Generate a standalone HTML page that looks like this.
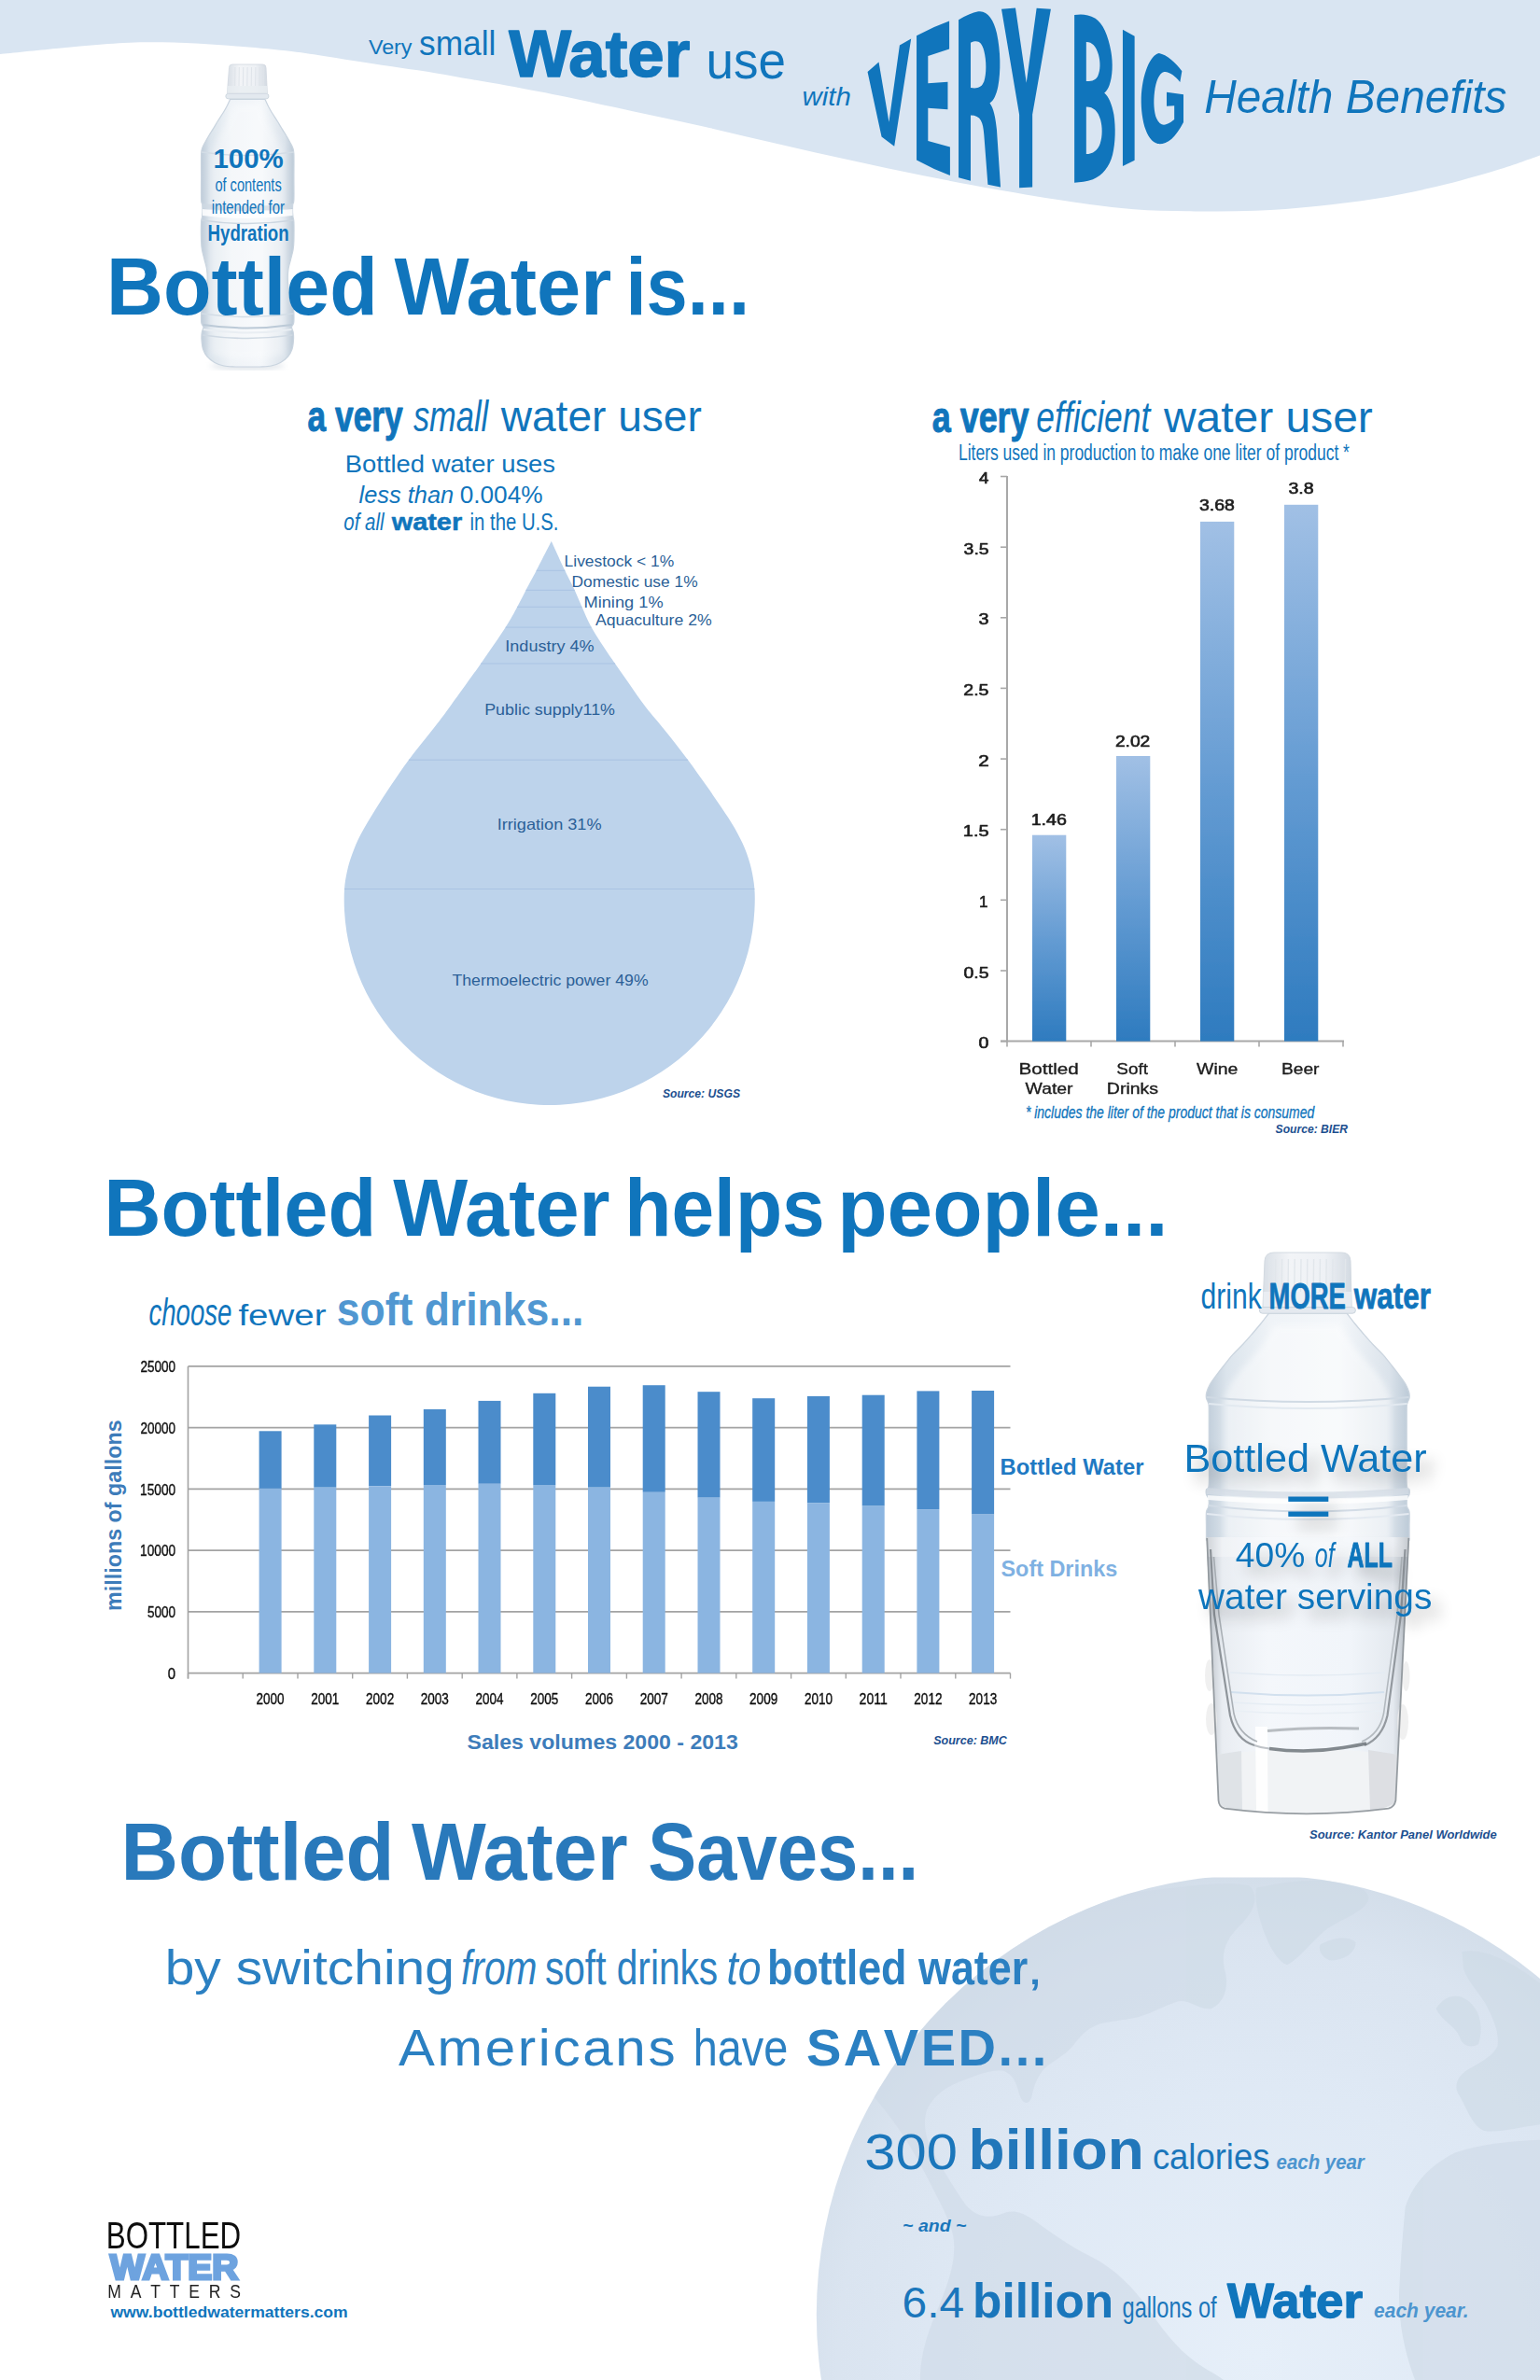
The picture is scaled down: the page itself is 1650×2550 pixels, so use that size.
<!DOCTYPE html>
<html><head><meta charset="utf-8"><title>Bottled Water</title>
<style>
html,body{margin:0;padding:0;background:#fff;}
body{width:1650px;height:2550px;overflow:hidden;font-family:"Liberation Sans",sans-serif;}
svg{display:block;font-family:"Liberation Sans",sans-serif;}
text{white-space:pre;}
</style></head><body>
<svg width="1650" height="2550" viewBox="0 0 1650 2550">
<defs>
<linearGradient id="barg" x1="0" y1="0" x2="0" y2="1"><stop offset="0" stop-color="#a1c0e5"/><stop offset="0.5" stop-color="#659cd3"/><stop offset="1" stop-color="#2e7bbf"/></linearGradient>
<radialGradient id="globeg" cx="0.5" cy="0.55" r="0.56"><stop offset="0" stop-color="#e6eff9"/><stop offset="0.55" stop-color="#dfe9f5"/><stop offset="0.85" stop-color="#dae4f0"/><stop offset="1" stop-color="#d2dde9"/></radialGradient>
<linearGradient id="botg" x1="0" y1="0" x2="1" y2="0"><stop offset="0" stop-color="#bfccd9"/><stop offset="0.10" stop-color="#dbe4ec"/><stop offset="0.32" stop-color="#eff3f7"/><stop offset="0.65" stop-color="#f4f7fa"/><stop offset="0.90" stop-color="#dbe3eb"/><stop offset="1" stop-color="#bccad7"/></linearGradient>
<linearGradient id="capg" x1="0" y1="0" x2="1" y2="0"><stop offset="0" stop-color="#d9dfe6"/><stop offset="0.3" stop-color="#f2f4f7"/><stop offset="0.7" stop-color="#eef1f5"/><stop offset="1" stop-color="#d3dae2"/></linearGradient>
<linearGradient id="glassg" x1="0" y1="0" x2="1" y2="0"><stop offset="0" stop-color="#b9bfc6"/><stop offset="0.08" stop-color="#e9edf2"/><stop offset="0.3" stop-color="#f4f7fb"/><stop offset="0.7" stop-color="#f1f5fa"/><stop offset="0.92" stop-color="#e4e9ef"/><stop offset="1" stop-color="#aab1b9"/></linearGradient>
<filter id="sh" x="-20%" y="-50%" width="150%" height="250%"><feGaussianBlur in="SourceAlpha" stdDeviation="8"/><feOffset dx="10" dy="11" result="b"/><feComponentTransfer><feFuncA type="linear" slope="0.26"/></feComponentTransfer><feMerge><feMergeNode/><feMergeNode in="SourceGraphic"/></feMerge></filter>
<filter id="soft"><feGaussianBlur stdDeviation="0.45"/></filter>
<filter id="soft2"><feGaussianBlur stdDeviation="0.7"/></filter>
<filter id="blur3"><feGaussianBlur stdDeviation="3"/></filter>
</defs>
<path d="M0,0 H1650 V166.4 C1642.4,169.0 1622.9,176.4 1604.5,182.0 C1586.1,187.6 1561.2,194.7 1539.6,199.8 C1518.0,204.9 1496.3,209.3 1474.7,212.8 C1453.1,216.3 1431.6,218.8 1410.0,221.0 C1388.4,223.2 1366.7,224.9 1345.0,225.8 C1323.3,226.7 1301.7,226.7 1280.0,226.4 C1258.3,226.1 1236.7,225.8 1215.0,224.2 C1193.3,222.5 1174.6,220.0 1150.0,216.5 C1125.4,213.0 1094.2,207.7 1067.5,203.0 C1040.8,198.3 1015.6,193.4 989.6,188.2 C963.6,183.0 937.7,177.5 911.7,171.8 C885.7,166.2 859.8,160.3 833.8,154.3 C807.8,148.3 781.8,141.8 755.8,136.0 C729.8,130.2 704.0,124.8 678.0,119.2 C652.0,113.6 622.2,107.0 600.0,102.5 C577.8,98.0 560.8,94.9 545.0,92.0 C529.2,89.1 517.9,87.3 505.0,85.0 C492.1,82.7 480.3,80.5 467.5,78.4 C454.7,76.3 440.9,74.4 428.0,72.5 C415.1,70.6 403.0,68.8 390.0,66.8 C377.0,64.8 363.0,62.5 350.0,60.5 C337.0,58.5 327.0,56.8 312.0,55.0 C297.0,53.2 277.0,51.4 260.0,50.0 C243.0,48.6 227.3,47.3 210.0,46.5 C192.7,45.7 172.7,45.1 156.0,45.3 C139.3,45.5 126.0,46.4 110.0,47.5 C94.0,48.6 78.3,50.2 60.0,52.0 C41.7,53.8 10.0,57.0 0.0,58.0 Z" fill="#d9e5f2"/>
<text x="394.9" y="58.0" font-size="22.0" font-weight="normal" font-style="normal" fill="#1075bc" textLength="46.6" lengthAdjust="spacingAndGlyphs" >Very</text>
<text x="449.0" y="59.0" font-size="37.0" font-weight="normal" font-style="normal" fill="#1075bc" textLength="82.3" lengthAdjust="spacingAndGlyphs" >small</text>
<text x="545.2" y="81.6" font-size="71.0" font-weight="bold" font-style="normal" fill="#1075bc" textLength="194.0" lengthAdjust="spacingAndGlyphs" stroke="#1075bc" stroke-width="1.6" stroke-linejoin="round" >Water</text>
<text x="756.6" y="84.0" font-size="56.0" font-weight="normal" font-style="normal" fill="#1075bc" textLength="85.4" lengthAdjust="spacingAndGlyphs" >use</text>
<text x="859.5" y="112.7" font-size="27.0" font-weight="normal" font-style="italic" fill="#1075bc" textLength="52.3" lengthAdjust="spacingAndGlyphs" >with</text>
<text x="1290.2" y="121.0" font-size="50.0" font-weight="normal" font-style="italic" fill="#1075bc" textLength="324.3" lengthAdjust="spacingAndGlyphs" >Health Benefits</text>
<g transform="translate(920,0) scale(0.136364)" fill="#1075bc">
<path d="M70,565 L158,488 L238,958 L322,355 L412,305 L280,1150 L180,1075 Z"/>
<path d="M455,280 Q585,210 712,165 L712,385 L545,440 L545,655 L700,643 L700,860 L545,848 L545,1108 L718,1155 L718,1378 Q585,1330 455,1258 Z"/>
<path fill-rule="evenodd" d="M785,155 Q870,105 940,90 C1010,80 1060,150 1085,260 C1115,400 1118,560 1095,680 C1080,750 1060,790 1030,810 C1060,850 1075,920 1085,1020 L1115,1470 L1015,1450 L985,1060 C978,960 960,905 880,905 L880,1420 L785,1395 Z M880,335 C930,315 965,320 985,400 C1005,480 1005,580 985,640 C965,690 930,698 880,690 Z"/>
<path d="M1122,72 L1232,62 L1318,650 L1398,65 L1510,72 L1365,900 L1365,1470 L1262,1475 L1262,900 Z"/>
</g>
<g transform="translate(1100,0) scale(0.136364)" fill="#1075bc">
<path fill-rule="evenodd" d="M375,118 C430,108 480,112 540,145 C600,185 640,280 662,400 C680,500 675,600 650,670 C640,700 625,720 610,730 C645,760 670,820 685,900 C700,1000 698,1120 675,1215 C650,1310 600,1375 520,1410 C470,1428 420,1432 375,1435 Z M468,330 C510,328 545,360 565,430 C580,490 580,550 560,595 C545,628 510,640 468,638 Z M468,840 C520,838 560,870 580,940 C596,1000 596,1070 578,1125 C560,1180 520,1210 468,1210 Z"/>
<path d="M755,232 L848,285 L848,1260 L755,1305 Z"/>
<path d="M1040,418 C1100,430 1170,490 1220,560 L1205,645 C1170,600 1120,560 1080,565 C1040,575 1015,640 1005,720 C995,800 1000,880 1020,930 C1040,975 1070,990 1100,975 C1125,965 1145,950 1160,938 L1160,830 L1100,835 L1100,725 L1232,742 L1232,960 C1200,1020 1170,1060 1140,1090 C1100,1125 1060,1135 1030,1130 C990,1120 960,1085 935,1020 C910,950 898,860 900,770 C903,680 920,590 950,520 C975,465 1005,425 1040,418 Z"/>
</g>
<g>
<ellipse cx="265" cy="392" rx="40" ry="3.5" fill="#b9c5d0" opacity="0.55" filter="url(#blur3)"/>
<path d="M246.5,106.5 C245.9,107.8 244.2,111.6 243.0,114.0 C241.8,116.4 240.6,118.4 239.0,121.0 C237.4,123.6 235.2,126.8 233.5,129.5 C231.8,132.2 230.4,134.8 228.8,137.4 C227.2,140.0 225.5,142.6 224.0,145.0 C222.5,147.4 221.2,149.8 220.0,152.0 C218.8,154.2 217.7,155.8 217.0,158.0 C216.3,160.2 215.8,159.7 215.6,165.0 C215.4,170.3 215.6,181.8 215.6,190.0 C215.6,198.2 215.4,209.2 215.6,214.0 C215.8,218.8 216.6,217.0 216.8,219.0 C217.0,221.0 217.0,223.8 217.0,226.0 C217.0,228.2 216.8,230.0 216.6,232.0 C216.4,234.0 215.8,233.7 215.6,238.0 C215.4,242.3 215.4,253.0 215.6,258.0 C215.8,263.0 215.9,264.7 216.5,268.0 C217.1,271.3 218.2,274.7 219.0,278.0 C219.8,281.3 221.0,284.7 221.5,288.0 C222.0,291.3 222.2,294.7 222.2,298.0 C222.2,301.3 222.0,304.7 221.5,308.0 C221.0,311.3 219.8,314.8 219.0,318.0 C218.2,321.2 217.1,324.0 216.5,327.0 C215.9,330.0 215.7,332.8 215.6,336.0 C215.5,339.2 215.4,343.6 215.8,346.0 C216.2,348.4 217.9,348.8 218.0,350.5 C218.1,352.2 216.6,353.8 216.3,356.0 C216.0,358.2 215.8,361.0 216.0,364.0 C216.2,367.0 216.5,371.0 217.5,374.0 C218.5,377.0 219.9,379.6 222.0,382.0 C224.1,384.4 227.0,386.8 230.0,388.5 C233.0,390.2 236.3,391.2 240.0,392.0 C243.7,392.8 250.0,392.8 252.0,393.0 L278.5,393.0 C280.5,392.8 286.8,392.8 290.5,392.0 C294.2,391.2 297.5,390.2 300.5,388.5 C303.5,386.8 306.4,384.4 308.5,382.0 C310.6,379.6 312.0,377.0 313.0,374.0 C314.0,371.0 314.3,367.0 314.5,364.0 C314.7,361.0 314.5,358.2 314.2,356.0 C313.9,353.8 312.4,352.2 312.5,350.5 C312.6,348.8 314.3,348.4 314.7,346.0 C315.1,343.6 315.0,339.2 314.9,336.0 C314.8,332.8 314.6,330.0 314.0,327.0 C313.4,324.0 312.3,321.2 311.5,318.0 C310.7,314.8 309.5,311.3 309.0,308.0 C308.5,304.7 308.3,301.3 308.3,298.0 C308.3,294.7 308.5,291.3 309.0,288.0 C309.5,284.7 310.7,281.3 311.5,278.0 C312.3,274.7 313.4,271.3 314.0,268.0 C314.6,264.7 314.8,263.0 314.9,258.0 C315.0,253.0 315.1,242.3 314.9,238.0 C314.7,233.7 314.1,234.0 313.9,232.0 C313.7,230.0 313.5,228.2 313.5,226.0 C313.5,223.8 313.5,221.0 313.7,219.0 C313.9,217.0 314.7,218.8 314.9,214.0 C315.1,209.2 314.9,198.2 314.9,190.0 C314.9,181.8 315.1,170.3 314.9,165.0 C314.7,159.7 314.2,160.2 313.5,158.0 C312.8,155.8 311.7,154.2 310.5,152.0 C309.3,149.8 308.0,147.4 306.5,145.0 C305.0,142.6 303.3,140.0 301.7,137.4 C300.1,134.8 298.7,132.2 297.0,129.5 C295.3,126.8 293.1,123.6 291.5,121.0 C289.9,118.4 288.8,116.4 287.5,114.0 C286.2,111.6 284.6,107.8 284.0,106.5 Z" fill="url(#botg)" stroke="#c9d4df" stroke-width="1.2"/>
<path d="M250,112 C243,135 229,150 226,168 L226,380 Q265,390 304,380 L304,168 C301,150 287,135 280,112 Z" fill="#ffffff" opacity="0.35" filter="url(#blur3)"/>
<path d="M245.5,72.5 Q245.5,69 249,69 L281.5,69 Q285,69 285,72.5 L286.4,100 L243.4,100 Z" fill="url(#capg)" stroke="#d0d7df" stroke-width="0.8"/>
<line x1="247.5" y1="72" x2="247.2" y2="92" stroke="#dfe4ea" stroke-width="1"/>
<line x1="251.9" y1="72" x2="251.6" y2="92" stroke="#dfe4ea" stroke-width="1"/>
<line x1="256.3" y1="72" x2="256.0" y2="92" stroke="#dfe4ea" stroke-width="1"/>
<line x1="260.7" y1="72" x2="260.4" y2="92" stroke="#dfe4ea" stroke-width="1"/>
<line x1="265.1" y1="72" x2="264.8" y2="92" stroke="#dfe4ea" stroke-width="1"/>
<line x1="269.5" y1="72" x2="269.2" y2="92" stroke="#dfe4ea" stroke-width="1"/>
<line x1="273.9" y1="72" x2="273.6" y2="92" stroke="#dfe4ea" stroke-width="1"/>
<line x1="278.3" y1="72" x2="278.0" y2="92" stroke="#dfe4ea" stroke-width="1"/>
<line x1="282.7" y1="72" x2="282.4" y2="92" stroke="#dfe4ea" stroke-width="1"/>
<rect x="243.4" y="92" width="43" height="8" fill="#e9edf1" opacity="0.8"/>
<rect x="241.8" y="100.3" width="46.2" height="5.6" rx="2.8" fill="#e3e9ef" stroke="#c9d3dc" stroke-width="0.8"/>
<path d="M215.8,163 Q265,170 314.7,163" fill="none" stroke="#d3dde6" stroke-width="1.5"/>
<path d="M216.5,218 Q265,224 314,218 L314,223 Q265,229 216.5,223 Z" fill="#cfd9e3" opacity="0.7"/>
<path d="M217,224 Q265,230 313.5,224 L313.5,231 Q265,237 217,231 Z" fill="#ffffff" opacity="0.85"/>
<path d="M216,236 Q265,243 314.5,236" fill="none" stroke="#cdd7e1" stroke-width="1.5"/>
<path d="M216,336 Q265,343 314.5,336" fill="none" stroke="#d3dde6" stroke-width="1.3"/>
<path d="M217.5,348 Q265,355 313,348" fill="none" stroke="#bccad7" stroke-width="2"/>
<path d="M218,353 Q265,360 312.5,353" fill="none" stroke="#e9eef3" stroke-width="2"/>
<path d="M217,359 Q265,366 313.5,359" fill="none" stroke="#cfd9e3" stroke-width="1.5"/>
</g>
<text x="228.4" y="179.7" font-size="29.0" font-weight="bold" font-style="normal" fill="#1075bc" textLength="75.3" lengthAdjust="spacingAndGlyphs" >100%</text>
<text x="230.4" y="204.6" font-size="20.5" font-weight="normal" font-style="normal" fill="#1075bc" textLength="71.3" lengthAdjust="spacingAndGlyphs" >of contents</text>
<text x="226.7" y="229.4" font-size="20.5" font-weight="normal" font-style="normal" fill="#1075bc" textLength="78.2" lengthAdjust="spacingAndGlyphs" >intended for</text>
<text x="222.5" y="258.3" font-size="24.0" font-weight="bold" font-style="normal" fill="#1075bc" textLength="87.2" lengthAdjust="spacingAndGlyphs" >Hydration</text>
<text x="114.0" y="337.0" font-size="87.0" font-weight="bold" font-style="normal" fill="#1075bc" textLength="290.8" lengthAdjust="spacingAndGlyphs" >Bottled</text>
<text x="422.5" y="337.0" font-size="87.0" font-weight="bold" font-style="normal" fill="#1075bc" textLength="232.7" lengthAdjust="spacingAndGlyphs" >Water</text>
<text x="670.5" y="337.0" font-size="87.0" font-weight="bold" font-style="normal" fill="#1075bc" textLength="132.5" lengthAdjust="spacingAndGlyphs" >is...</text>
<text x="329.5" y="461.6" font-size="47.0" font-weight="bold" font-style="normal" fill="#1075bc" textLength="102.2" lengthAdjust="spacingAndGlyphs" stroke="#1075bc" stroke-width="1.0" stroke-linejoin="round" >a very</text>
<text x="442.9" y="461.6" font-size="47.0" font-weight="normal" font-style="italic" fill="#1075bc" textLength="80.3" lengthAdjust="spacingAndGlyphs" >small</text>
<text x="536.7" y="461.6" font-size="47.0" font-weight="normal" font-style="normal" fill="#1075bc" textLength="215.1" lengthAdjust="spacingAndGlyphs" >water user</text>
<text x="369.8" y="505.9" font-size="25.5" font-weight="normal" font-style="normal" fill="#1075bc" textLength="225.2" lengthAdjust="spacingAndGlyphs" >Bottled water uses</text>
<text x="384.6" y="539.3" font-size="25.5" font-weight="normal" font-style="italic" fill="#1075bc" textLength="101.6" lengthAdjust="spacingAndGlyphs" >less than</text>
<text x="492.7" y="539.3" font-size="25.5" font-weight="normal" font-style="normal" fill="#1075bc" textLength="88.9" lengthAdjust="spacingAndGlyphs" >0.004%</text>
<text x="368.3" y="568.0" font-size="25.5" font-weight="normal" font-style="italic" fill="#1075bc" textLength="43.2" lengthAdjust="spacingAndGlyphs" >of all</text>
<text x="419.7" y="568.0" font-size="26.0" font-weight="bold" font-style="normal" fill="#1075bc" textLength="75.5" lengthAdjust="spacingAndGlyphs" stroke="#1075bc" stroke-width="0.5" stroke-linejoin="round" >water</text>
<text x="503.6" y="568.0" font-size="25.5" font-weight="normal" font-style="normal" fill="#1075bc" textLength="94.8" lengthAdjust="spacingAndGlyphs" >in the U.S.</text>
<path d="M590.8,579.7 C593.2,585.0 601.1,602.5 605.3,611.3 C609.4,620.1 612.7,625.8 615.7,632.3 C618.7,638.8 620.5,643.7 623.5,650.3 C626.5,656.9 629.0,663.8 633.6,672.1 C638.2,680.4 647.1,693.5 651.4,700.0 C655.7,706.5 655.6,706.0 659.2,711.2 C662.8,716.4 667.7,723.5 673.2,731.2 C678.7,739.0 685.2,748.9 692.0,757.7 C698.8,766.5 706.3,774.8 713.8,784.2 C721.3,793.6 730.1,804.9 737.1,814.2 C744.1,823.6 749.8,831.8 755.8,840.3 C761.8,848.8 767.8,857.4 773.0,865.2 C778.2,873.0 782.9,879.7 787.0,887.0 C791.1,894.3 794.9,901.5 797.9,908.8 C800.9,916.1 803.2,923.3 804.9,930.6 C806.6,937.9 807.8,945.0 808.4,952.5 C809.0,960.0 808.8,967.9 808.4,975.5 C808.0,983.2 807.2,990.8 806.0,998.4 C804.8,1006.0 803.2,1013.5 801.2,1020.9 C799.2,1028.3 796.8,1035.7 794.1,1042.8 C791.3,1050.0 788.2,1057.0 784.7,1063.9 C781.2,1070.7 777.4,1077.4 773.2,1083.8 C769.0,1090.2 764.5,1096.5 759.7,1102.5 C754.8,1108.4 749.7,1114.1 744.3,1119.6 C738.8,1125.0 733.1,1130.1 727.2,1135.0 C721.2,1139.8 714.9,1144.3 708.5,1148.5 C702.1,1152.7 695.4,1156.5 688.6,1160.0 C681.7,1163.5 674.7,1166.6 667.5,1169.4 C660.4,1172.1 653.0,1174.5 645.6,1176.5 C638.2,1178.5 630.7,1180.1 623.1,1181.3 C615.5,1182.5 607.9,1183.3 600.2,1183.7 C592.6,1184.1 584.8,1184.1 577.2,1183.7 C569.5,1183.3 561.9,1182.5 554.3,1181.3 C546.7,1180.1 539.2,1178.5 531.8,1176.5 C524.4,1174.5 517.0,1172.1 509.9,1169.4 C502.7,1166.6 495.7,1163.5 488.8,1160.0 C482.0,1156.5 475.3,1152.7 468.9,1148.5 C462.5,1144.3 456.2,1139.8 450.2,1135.0 C444.3,1130.1 438.6,1125.0 433.1,1119.6 C427.7,1114.1 422.6,1108.4 417.7,1102.5 C412.9,1096.5 408.4,1090.2 404.2,1083.8 C400.0,1077.4 396.2,1070.7 392.7,1063.9 C389.2,1057.0 386.1,1050.0 383.3,1042.8 C380.6,1035.7 378.2,1028.3 376.2,1020.9 C374.2,1013.5 372.6,1006.0 371.4,998.4 C370.2,990.8 369.4,983.2 369.0,975.5 C368.6,967.9 368.6,959.3 369.0,952.5 C369.5,945.7 370.4,940.6 371.7,934.5 C373.0,928.4 374.6,922.5 377.1,915.8 C379.6,909.0 382.3,902.0 386.5,894.0 C390.7,886.0 396.7,876.3 402.1,867.5 C407.6,858.7 413.2,849.9 419.2,841.0 C425.2,832.1 431.1,823.3 437.9,814.2 C444.6,805.1 452.7,795.5 459.7,786.5 C466.7,777.5 470.8,772.6 480.0,760.0 C489.2,747.4 504.9,725.6 515.2,711.0 C525.5,696.4 535.2,682.2 541.7,672.1 C548.2,662.0 550.6,656.9 554.2,650.3 C557.8,643.7 560.1,638.8 563.5,632.3 C566.9,625.8 570.2,620.1 574.7,611.3 C579.2,602.5 588.1,585.0 590.8,579.7 Z" fill="#bdd3eb"/>
<line x1="574.7" y1="611.3" x2="605.3" y2="611.3" stroke="#a9c3e3" stroke-width="1"/>
<line x1="563.5" y1="632.3" x2="615.7" y2="632.3" stroke="#a9c3e3" stroke-width="1"/>
<line x1="554.2" y1="650.3" x2="623.5" y2="650.3" stroke="#a9c3e3" stroke-width="1"/>
<line x1="541.7" y1="672.1" x2="633.6" y2="672.1" stroke="#a9c3e3" stroke-width="1"/>
<line x1="515.2" y1="711.0" x2="659.1" y2="711.0" stroke="#a9c3e3" stroke-width="1"/>
<line x1="437.9" y1="814.2" x2="737.1" y2="814.2" stroke="#a9c3e3" stroke-width="1"/>
<line x1="369.0" y1="952.5" x2="808.4" y2="952.5" stroke="#a9c3e3" stroke-width="1"/>
<text x="604.6" y="607.0" font-size="16.5" font-weight="normal" font-style="normal" fill="#2b5f97" textLength="117.7" lengthAdjust="spacingAndGlyphs" >Livestock &lt; 1%</text>
<text x="612.6" y="628.7" font-size="16.5" font-weight="normal" font-style="normal" fill="#2b5f97" textLength="135.0" lengthAdjust="spacingAndGlyphs" >Domestic use 1%</text>
<text x="625.5" y="650.5" font-size="16.5" font-weight="normal" font-style="normal" fill="#2b5f97" textLength="85.1" lengthAdjust="spacingAndGlyphs" >Mining 1%</text>
<text x="638.0" y="669.7" font-size="16.5" font-weight="normal" font-style="normal" fill="#2b5f97" textLength="124.7" lengthAdjust="spacingAndGlyphs" >Aquaculture 2%</text>
<text x="541.3" y="698.0" font-size="16.5" font-weight="normal" font-style="normal" fill="#2b5f97" textLength="95.3" lengthAdjust="spacingAndGlyphs" >Industry 4%</text>
<text x="519.2" y="766.3" font-size="16.5" font-weight="normal" font-style="normal" fill="#2b5f97" textLength="139.8" lengthAdjust="spacingAndGlyphs" >Public supply11%</text>
<text x="532.7" y="889.4" font-size="16.5" font-weight="normal" font-style="normal" fill="#2b5f97" textLength="111.9" lengthAdjust="spacingAndGlyphs" >Irrigation 31%</text>
<text x="484.5" y="1056.0" font-size="16.5" font-weight="normal" font-style="normal" fill="#2b5f97" textLength="210.1" lengthAdjust="spacingAndGlyphs" >Thermoelectric power 49%</text>
<text x="709.9" y="1175.7" font-size="12.5" font-weight="bold" font-style="italic" fill="#1d4f8f" textLength="83.1" lengthAdjust="spacingAndGlyphs" >Source: USGS</text>
<text x="998.7" y="463.0" font-size="47.0" font-weight="bold" font-style="normal" fill="#1075bc" textLength="103.9" lengthAdjust="spacingAndGlyphs" stroke="#1075bc" stroke-width="1.0" stroke-linejoin="round" >a very</text>
<text x="1110.3" y="463.0" font-size="47.0" font-weight="normal" font-style="italic" fill="#1075bc" textLength="122.0" lengthAdjust="spacingAndGlyphs" >efficient</text>
<text x="1246.9" y="463.0" font-size="47.0" font-weight="normal" font-style="normal" fill="#1075bc" textLength="223.9" lengthAdjust="spacingAndGlyphs" >water user</text>
<text x="1027.0" y="493.0" font-size="23.5" font-weight="normal" font-style="normal" fill="#1075bc" textLength="418.9" lengthAdjust="spacingAndGlyphs" >Liters used in production to make one liter of product *</text>
<g filter="url(#soft)">
<line x1="1079" y1="510" x2="1079" y2="1116.6" stroke="#a8a8a8" stroke-width="2"/>
<line x1="1072" y1="1115.6" x2="1440" y2="1115.6" stroke="#a8a8a8" stroke-width="2"/>
<line x1="1072" y1="1115.6" x2="1079" y2="1115.6" stroke="#a8a8a8" stroke-width="1.6"/>
<line x1="1072" y1="1040.0" x2="1079" y2="1040.0" stroke="#a8a8a8" stroke-width="1.6"/>
<line x1="1072" y1="964.3" x2="1079" y2="964.3" stroke="#a8a8a8" stroke-width="1.6"/>
<line x1="1072" y1="888.7" x2="1079" y2="888.7" stroke="#a8a8a8" stroke-width="1.6"/>
<line x1="1072" y1="813.1" x2="1079" y2="813.1" stroke="#a8a8a8" stroke-width="1.6"/>
<line x1="1072" y1="737.4" x2="1079" y2="737.4" stroke="#a8a8a8" stroke-width="1.6"/>
<line x1="1072" y1="661.8" x2="1079" y2="661.8" stroke="#a8a8a8" stroke-width="1.6"/>
<line x1="1072" y1="586.2" x2="1079" y2="586.2" stroke="#a8a8a8" stroke-width="1.6"/>
<line x1="1072" y1="510.5" x2="1079" y2="510.5" stroke="#a8a8a8" stroke-width="1.6"/>
<line x1="1079" y1="1115.6" x2="1079" y2="1121.6" stroke="#a8a8a8" stroke-width="1.6"/>
<line x1="1169" y1="1115.6" x2="1169" y2="1121.6" stroke="#a8a8a8" stroke-width="1.6"/>
<line x1="1259" y1="1115.6" x2="1259" y2="1121.6" stroke="#a8a8a8" stroke-width="1.6"/>
<line x1="1349" y1="1115.6" x2="1349" y2="1121.6" stroke="#a8a8a8" stroke-width="1.6"/>
<line x1="1439" y1="1115.6" x2="1439" y2="1121.6" stroke="#a8a8a8" stroke-width="1.6"/>
<rect x="1106.0" y="894.7" width="36.3" height="220.9" fill="url(#barg)"/>
<rect x="1196.0" y="810.0" width="36.3" height="305.6" fill="url(#barg)"/>
<rect x="1286.0" y="558.9" width="36.3" height="556.7" fill="url(#barg)"/>
<rect x="1376.0" y="540.8" width="36.3" height="574.8" fill="url(#barg)"/>
</g>
<g filter="url(#soft)">
<text x="1048.9" y="518.0" font-size="16.0" font-weight="normal" font-style="normal" fill="#1c1c1c" textLength="10.4" lengthAdjust="spacingAndGlyphs" stroke="#1c1c1c" stroke-width="0.6" stroke-linejoin="round" >4</text>
<text x="1032.6" y="593.6" font-size="16.0" font-weight="normal" font-style="normal" fill="#1c1c1c" textLength="27.0" lengthAdjust="spacingAndGlyphs" stroke="#1c1c1c" stroke-width="0.6" stroke-linejoin="round" >3.5</text>
<text x="1048.5" y="669.3" font-size="16.0" font-weight="normal" font-style="normal" fill="#1c1c1c" textLength="11.0" lengthAdjust="spacingAndGlyphs" stroke="#1c1c1c" stroke-width="0.6" stroke-linejoin="round" >3</text>
<text x="1032.3" y="744.9" font-size="16.0" font-weight="normal" font-style="normal" fill="#1c1c1c" textLength="27.2" lengthAdjust="spacingAndGlyphs" stroke="#1c1c1c" stroke-width="0.6" stroke-linejoin="round" >2.5</text>
<text x="1048.3" y="820.6" font-size="16.0" font-weight="normal" font-style="normal" fill="#1c1c1c" textLength="11.5" lengthAdjust="spacingAndGlyphs" stroke="#1c1c1c" stroke-width="0.6" stroke-linejoin="round" >2</text>
<text x="1031.8" y="896.2" font-size="16.0" font-weight="normal" font-style="normal" fill="#1c1c1c" textLength="27.8" lengthAdjust="spacingAndGlyphs" stroke="#1c1c1c" stroke-width="0.6" stroke-linejoin="round" >1.5</text>
<text x="1049.0" y="971.8" font-size="16.0" font-weight="normal" font-style="normal" fill="#1c1c1c" textLength="9.5" lengthAdjust="spacingAndGlyphs" stroke="#1c1c1c" stroke-width="0.6" stroke-linejoin="round" >1</text>
<text x="1032.5" y="1047.5" font-size="16.0" font-weight="normal" font-style="normal" fill="#1c1c1c" textLength="27.0" lengthAdjust="spacingAndGlyphs" stroke="#1c1c1c" stroke-width="0.6" stroke-linejoin="round" >0.5</text>
<text x="1048.5" y="1123.1" font-size="16.0" font-weight="normal" font-style="normal" fill="#1c1c1c" textLength="10.9" lengthAdjust="spacingAndGlyphs" stroke="#1c1c1c" stroke-width="0.6" stroke-linejoin="round" >0</text>
<text x="1104.7" y="883.5" font-size="16.0" font-weight="normal" font-style="normal" fill="#1c1c1c" textLength="38.2" lengthAdjust="spacingAndGlyphs" stroke="#1c1c1c" stroke-width="0.6" stroke-linejoin="round" >1.46</text>
<text x="1194.9" y="799.7" font-size="16.0" font-weight="normal" font-style="normal" fill="#1c1c1c" textLength="37.4" lengthAdjust="spacingAndGlyphs" stroke="#1c1c1c" stroke-width="0.6" stroke-linejoin="round" >2.02</text>
<text x="1285.0" y="547.3" font-size="16.0" font-weight="normal" font-style="normal" fill="#1c1c1c" textLength="37.8" lengthAdjust="spacingAndGlyphs" stroke="#1c1c1c" stroke-width="0.6" stroke-linejoin="round" >3.68</text>
<text x="1380.4" y="528.7" font-size="16.0" font-weight="normal" font-style="normal" fill="#1c1c1c" textLength="27.2" lengthAdjust="spacingAndGlyphs" stroke="#1c1c1c" stroke-width="0.6" stroke-linejoin="round" >3.8</text>
<text x="1091.5" y="1150.6" font-size="17.0" font-weight="normal" font-style="normal" fill="#1c1c1c" textLength="64.3" lengthAdjust="spacingAndGlyphs" stroke="#1c1c1c" stroke-width="0.35" stroke-linejoin="round" >Bottled</text>
<text x="1098.6" y="1171.7" font-size="17.0" font-weight="normal" font-style="normal" fill="#1c1c1c" textLength="50.9" lengthAdjust="spacingAndGlyphs" stroke="#1c1c1c" stroke-width="0.35" stroke-linejoin="round" >Water</text>
<text x="1196.3" y="1150.6" font-size="17.0" font-weight="normal" font-style="normal" fill="#1c1c1c" textLength="33.6" lengthAdjust="spacingAndGlyphs" stroke="#1c1c1c" stroke-width="0.35" stroke-linejoin="round" >Soft</text>
<text x="1185.8" y="1171.7" font-size="17.0" font-weight="normal" font-style="normal" fill="#1c1c1c" textLength="55.3" lengthAdjust="spacingAndGlyphs" stroke="#1c1c1c" stroke-width="0.35" stroke-linejoin="round" >Drinks</text>
<text x="1282.0" y="1150.6" font-size="17.0" font-weight="normal" font-style="normal" fill="#1c1c1c" textLength="44.4" lengthAdjust="spacingAndGlyphs" stroke="#1c1c1c" stroke-width="0.35" stroke-linejoin="round" >Wine</text>
<text x="1373.0" y="1150.6" font-size="17.0" font-weight="normal" font-style="normal" fill="#1c1c1c" textLength="40.5" lengthAdjust="spacingAndGlyphs" stroke="#1c1c1c" stroke-width="0.35" stroke-linejoin="round" >Beer</text>
</g>
<text x="1098.9" y="1198.0" font-size="18.5" font-weight="normal" font-style="italic" fill="#1075bc" textLength="309.4" lengthAdjust="spacingAndGlyphs" stroke="#1075bc" stroke-width="0.3" stroke-linejoin="round" >* includes the liter of the product that is consumed</text>
<text x="1366.6" y="1213.7" font-size="12.5" font-weight="bold" font-style="italic" fill="#1d4f8f" textLength="77.4" lengthAdjust="spacingAndGlyphs" >Source: BIER</text>
<text x="111.2" y="1324.0" font-size="87.0" font-weight="bold" font-style="normal" fill="#1075bc" textLength="292.2" lengthAdjust="spacingAndGlyphs" >Bottled</text>
<text x="421.3" y="1324.0" font-size="87.0" font-weight="bold" font-style="normal" fill="#1075bc" textLength="232.2" lengthAdjust="spacingAndGlyphs" >Water</text>
<text x="669.3" y="1324.0" font-size="87.0" font-weight="bold" font-style="normal" fill="#1075bc" textLength="214.4" lengthAdjust="spacingAndGlyphs" >helps</text>
<text x="897.2" y="1324.0" font-size="87.0" font-weight="bold" font-style="normal" fill="#1075bc" textLength="354.4" lengthAdjust="spacingAndGlyphs" >people...</text>
<text x="159.4" y="1420.0" font-size="40.0" font-weight="normal" font-style="italic" fill="#1075bc" textLength="89.0" lengthAdjust="spacingAndGlyphs" >choose</text>
<text x="255.4" y="1420.0" font-size="31.0" font-weight="normal" font-style="normal" fill="#1075bc" textLength="94.1" lengthAdjust="spacingAndGlyphs" >fewer</text>
<text x="360.7" y="1420.0" font-size="50.0" font-weight="bold" font-style="normal" fill="#5097d1" textLength="264.7" lengthAdjust="spacingAndGlyphs" >soft drinks...</text>
<g filter="url(#soft)">
<line x1="201.5" y1="1792.6" x2="1082.5" y2="1792.6" stroke="#a3a3a3" stroke-width="1.6"/>
<line x1="201.5" y1="1726.9" x2="1082.5" y2="1726.9" stroke="#a3a3a3" stroke-width="1.6"/>
<line x1="201.5" y1="1661.1" x2="1082.5" y2="1661.1" stroke="#a3a3a3" stroke-width="1.6"/>
<line x1="201.5" y1="1595.4" x2="1082.5" y2="1595.4" stroke="#a3a3a3" stroke-width="1.6"/>
<line x1="201.5" y1="1529.6" x2="1082.5" y2="1529.6" stroke="#a3a3a3" stroke-width="1.6"/>
<line x1="201.5" y1="1463.9" x2="1082.5" y2="1463.9" stroke="#a3a3a3" stroke-width="1.6"/>
<line x1="201.5" y1="1463.9" x2="201.5" y2="1798.6" stroke="#a3a3a3" stroke-width="1.6"/>
<line x1="201.5" y1="1792.6" x2="201.5" y2="1798.6" stroke="#a3a3a3" stroke-width="1.4"/>
<line x1="260.2" y1="1792.6" x2="260.2" y2="1798.6" stroke="#a3a3a3" stroke-width="1.4"/>
<line x1="319.0" y1="1792.6" x2="319.0" y2="1798.6" stroke="#a3a3a3" stroke-width="1.4"/>
<line x1="377.7" y1="1792.6" x2="377.7" y2="1798.6" stroke="#a3a3a3" stroke-width="1.4"/>
<line x1="436.4" y1="1792.6" x2="436.4" y2="1798.6" stroke="#a3a3a3" stroke-width="1.4"/>
<line x1="495.2" y1="1792.6" x2="495.2" y2="1798.6" stroke="#a3a3a3" stroke-width="1.4"/>
<line x1="553.9" y1="1792.6" x2="553.9" y2="1798.6" stroke="#a3a3a3" stroke-width="1.4"/>
<line x1="612.6" y1="1792.6" x2="612.6" y2="1798.6" stroke="#a3a3a3" stroke-width="1.4"/>
<line x1="671.4" y1="1792.6" x2="671.4" y2="1798.6" stroke="#a3a3a3" stroke-width="1.4"/>
<line x1="730.1" y1="1792.6" x2="730.1" y2="1798.6" stroke="#a3a3a3" stroke-width="1.4"/>
<line x1="788.8" y1="1792.6" x2="788.8" y2="1798.6" stroke="#a3a3a3" stroke-width="1.4"/>
<line x1="847.6" y1="1792.6" x2="847.6" y2="1798.6" stroke="#a3a3a3" stroke-width="1.4"/>
<line x1="906.3" y1="1792.6" x2="906.3" y2="1798.6" stroke="#a3a3a3" stroke-width="1.4"/>
<line x1="965.0" y1="1792.6" x2="965.0" y2="1798.6" stroke="#a3a3a3" stroke-width="1.4"/>
<line x1="1023.8" y1="1792.6" x2="1023.8" y2="1798.6" stroke="#a3a3a3" stroke-width="1.4"/>
<line x1="1082.5" y1="1792.6" x2="1082.5" y2="1798.6" stroke="#a3a3a3" stroke-width="1.4"/>
<rect x="277.6" y="1533.3" width="24" height="61.6" fill="#4b8ccb"/>
<rect x="277.6" y="1594.9" width="24" height="197.7" fill="#8bb5e1"/>
<rect x="336.3" y="1526.3" width="24" height="67.4" fill="#4b8ccb"/>
<rect x="336.3" y="1593.7" width="24" height="198.9" fill="#8bb5e1"/>
<rect x="395.1" y="1516.5" width="24" height="75.6" fill="#4b8ccb"/>
<rect x="395.1" y="1592.2" width="24" height="200.4" fill="#8bb5e1"/>
<rect x="453.8" y="1509.9" width="24" height="81.1" fill="#4b8ccb"/>
<rect x="453.8" y="1591.0" width="24" height="201.6" fill="#8bb5e1"/>
<rect x="512.5" y="1500.9" width="24" height="88.9" fill="#4b8ccb"/>
<rect x="512.5" y="1589.8" width="24" height="202.8" fill="#8bb5e1"/>
<rect x="571.3" y="1492.8" width="24" height="98.3" fill="#4b8ccb"/>
<rect x="571.3" y="1591.0" width="24" height="201.6" fill="#8bb5e1"/>
<rect x="630.0" y="1485.7" width="24" height="108.0" fill="#4b8ccb"/>
<rect x="630.0" y="1593.7" width="24" height="198.9" fill="#8bb5e1"/>
<rect x="688.7" y="1484.2" width="24" height="114.6" fill="#4b8ccb"/>
<rect x="688.7" y="1598.8" width="24" height="193.8" fill="#8bb5e1"/>
<rect x="747.5" y="1491.2" width="24" height="113.5" fill="#4b8ccb"/>
<rect x="747.5" y="1604.7" width="24" height="187.9" fill="#8bb5e1"/>
<rect x="806.2" y="1498.2" width="24" height="110.7" fill="#4b8ccb"/>
<rect x="806.2" y="1608.9" width="24" height="183.7" fill="#8bb5e1"/>
<rect x="864.9" y="1495.9" width="24" height="114.6" fill="#4b8ccb"/>
<rect x="864.9" y="1610.5" width="24" height="182.1" fill="#8bb5e1"/>
<rect x="923.7" y="1494.7" width="24" height="118.9" fill="#4b8ccb"/>
<rect x="923.7" y="1613.6" width="24" height="179.0" fill="#8bb5e1"/>
<rect x="982.4" y="1490.4" width="24" height="126.7" fill="#4b8ccb"/>
<rect x="982.4" y="1617.1" width="24" height="175.5" fill="#8bb5e1"/>
<rect x="1041.1" y="1490.0" width="24" height="132.6" fill="#4b8ccb"/>
<rect x="1041.1" y="1622.6" width="24" height="170.0" fill="#8bb5e1"/>
</g>
<g filter="url(#soft)">
<text x="179.8" y="1798.9" font-size="16.5" font-weight="normal" font-style="normal" fill="#111" textLength="8.3" lengthAdjust="spacingAndGlyphs" stroke="#111" stroke-width="0.4" stroke-linejoin="round" >0</text>
<text x="157.9" y="1733.2" font-size="16.5" font-weight="normal" font-style="normal" fill="#111" textLength="30.2" lengthAdjust="spacingAndGlyphs" stroke="#111" stroke-width="0.4" stroke-linejoin="round" >5000</text>
<text x="150.1" y="1667.4" font-size="16.5" font-weight="normal" font-style="normal" fill="#111" textLength="38.0" lengthAdjust="spacingAndGlyphs" stroke="#111" stroke-width="0.4" stroke-linejoin="round" >10000</text>
<text x="150.1" y="1601.7" font-size="16.5" font-weight="normal" font-style="normal" fill="#111" textLength="38.0" lengthAdjust="spacingAndGlyphs" stroke="#111" stroke-width="0.4" stroke-linejoin="round" >15000</text>
<text x="150.4" y="1535.9" font-size="16.5" font-weight="normal" font-style="normal" fill="#111" textLength="37.6" lengthAdjust="spacingAndGlyphs" stroke="#111" stroke-width="0.4" stroke-linejoin="round" >20000</text>
<text x="150.4" y="1470.2" font-size="16.5" font-weight="normal" font-style="normal" fill="#111" textLength="37.6" lengthAdjust="spacingAndGlyphs" stroke="#111" stroke-width="0.4" stroke-linejoin="round" >25000</text>
<text x="274.5" y="1825.5" font-size="16.5" font-weight="normal" font-style="normal" fill="#111" textLength="30.0" lengthAdjust="spacingAndGlyphs" stroke="#111" stroke-width="0.4" stroke-linejoin="round" >2000</text>
<text x="333.3" y="1825.5" font-size="16.5" font-weight="normal" font-style="normal" fill="#111" textLength="30.1" lengthAdjust="spacingAndGlyphs" stroke="#111" stroke-width="0.4" stroke-linejoin="round" >2001</text>
<text x="392.0" y="1825.5" font-size="16.5" font-weight="normal" font-style="normal" fill="#111" textLength="30.2" lengthAdjust="spacingAndGlyphs" stroke="#111" stroke-width="0.4" stroke-linejoin="round" >2002</text>
<text x="450.7" y="1825.5" font-size="16.5" font-weight="normal" font-style="normal" fill="#111" textLength="30.1" lengthAdjust="spacingAndGlyphs" stroke="#111" stroke-width="0.4" stroke-linejoin="round" >2003</text>
<text x="509.5" y="1825.5" font-size="16.5" font-weight="normal" font-style="normal" fill="#111" textLength="29.9" lengthAdjust="spacingAndGlyphs" stroke="#111" stroke-width="0.4" stroke-linejoin="round" >2004</text>
<text x="568.2" y="1825.5" font-size="16.5" font-weight="normal" font-style="normal" fill="#111" textLength="30.0" lengthAdjust="spacingAndGlyphs" stroke="#111" stroke-width="0.4" stroke-linejoin="round" >2005</text>
<text x="626.9" y="1825.5" font-size="16.5" font-weight="normal" font-style="normal" fill="#111" textLength="30.1" lengthAdjust="spacingAndGlyphs" stroke="#111" stroke-width="0.4" stroke-linejoin="round" >2006</text>
<text x="685.7" y="1825.5" font-size="16.5" font-weight="normal" font-style="normal" fill="#111" textLength="30.2" lengthAdjust="spacingAndGlyphs" stroke="#111" stroke-width="0.4" stroke-linejoin="round" >2007</text>
<text x="744.4" y="1825.5" font-size="16.5" font-weight="normal" font-style="normal" fill="#111" textLength="30.1" lengthAdjust="spacingAndGlyphs" stroke="#111" stroke-width="0.4" stroke-linejoin="round" >2008</text>
<text x="803.1" y="1825.5" font-size="16.5" font-weight="normal" font-style="normal" fill="#111" textLength="30.1" lengthAdjust="spacingAndGlyphs" stroke="#111" stroke-width="0.4" stroke-linejoin="round" >2009</text>
<text x="861.9" y="1825.5" font-size="16.5" font-weight="normal" font-style="normal" fill="#111" textLength="30.0" lengthAdjust="spacingAndGlyphs" stroke="#111" stroke-width="0.4" stroke-linejoin="round" >2010</text>
<text x="920.6" y="1825.5" font-size="16.5" font-weight="normal" font-style="normal" fill="#111" textLength="30.1" lengthAdjust="spacingAndGlyphs" stroke="#111" stroke-width="0.4" stroke-linejoin="round" >2011</text>
<text x="979.3" y="1825.5" font-size="16.5" font-weight="normal" font-style="normal" fill="#111" textLength="30.2" lengthAdjust="spacingAndGlyphs" stroke="#111" stroke-width="0.4" stroke-linejoin="round" >2012</text>
<text x="1038.1" y="1825.5" font-size="16.5" font-weight="normal" font-style="normal" fill="#111" textLength="30.1" lengthAdjust="spacingAndGlyphs" stroke="#111" stroke-width="0.4" stroke-linejoin="round" >2013</text>
</g>
<g transform="translate(129.5,1724.4) rotate(-90)">
<text x="-1.5" y="0.0" font-size="23.5" font-weight="bold" font-style="normal" fill="#3d7cba" textLength="204.5" lengthAdjust="spacingAndGlyphs" >millions of gallons</text>
</g>
<text x="500.6" y="1874.4" font-size="22.0" font-weight="bold" font-style="normal" fill="#3d7cba" textLength="290.2" lengthAdjust="spacingAndGlyphs" >Sales volumes 2000 - 2013</text>
<text x="1000.2" y="1868.6" font-size="12.5" font-weight="bold" font-style="italic" fill="#1d4f8f" textLength="78.6" lengthAdjust="spacingAndGlyphs" >Source: BMC</text>
<text x="1071.6" y="1580.3" font-size="23.0" font-weight="bold" font-style="normal" fill="#2079c3" textLength="153.9" lengthAdjust="spacingAndGlyphs" >Bottled Water</text>
<text x="1072.5" y="1689.4" font-size="23.0" font-weight="bold" font-style="normal" fill="#7fb1e2" textLength="124.8" lengthAdjust="spacingAndGlyphs" >Soft Drinks</text>
<g>
<path d="M1359.5,1407.0 C1358.1,1408.8 1353.8,1414.5 1351.0,1418.0 C1348.2,1421.5 1345.8,1424.3 1342.6,1428.0 C1339.4,1431.7 1335.7,1436.1 1332.0,1440.0 C1328.3,1443.9 1324.1,1447.7 1320.6,1451.6 C1317.1,1455.5 1314.1,1459.6 1311.0,1463.5 C1307.9,1467.4 1304.5,1471.8 1302.0,1475.2 C1299.5,1478.6 1297.5,1481.2 1296.0,1484.0 C1294.5,1486.8 1293.4,1489.7 1292.8,1492.0 C1292.2,1494.3 1292.2,1496.2 1292.5,1498.0 C1292.8,1499.8 1294.0,1501.0 1294.5,1503.0 C1295.0,1505.0 1295.2,1502.2 1295.3,1510.0 C1295.4,1517.8 1295.3,1536.7 1295.3,1550.0 C1295.3,1563.3 1295.8,1582.3 1295.3,1590.0 C1294.8,1597.7 1293.0,1594.2 1292.5,1596.0 C1292.0,1597.8 1292.1,1599.3 1292.5,1601.0 C1292.9,1602.7 1294.6,1603.8 1295.0,1606.0 C1295.4,1608.2 1295.4,1611.7 1295.0,1614.0 C1294.6,1616.3 1292.9,1616.5 1292.5,1620.0 C1292.1,1623.5 1292.5,1630.0 1292.5,1635.0 C1292.5,1640.0 1292.5,1647.5 1292.5,1650.0 L1510.0,1650.0 C1510.0,1647.5 1510.0,1640.0 1510.0,1635.0 C1510.0,1630.0 1510.4,1623.5 1510.0,1620.0 C1509.6,1616.5 1507.9,1616.3 1507.5,1614.0 C1507.1,1611.7 1507.1,1608.2 1507.5,1606.0 C1507.9,1603.8 1509.6,1602.7 1510.0,1601.0 C1510.4,1599.3 1510.5,1597.8 1510.0,1596.0 C1509.5,1594.2 1507.7,1597.7 1507.2,1590.0 C1506.7,1582.3 1507.2,1563.3 1507.2,1550.0 C1507.2,1536.7 1507.1,1517.8 1507.2,1510.0 C1507.3,1502.2 1507.5,1505.0 1508.0,1503.0 C1508.5,1501.0 1509.7,1499.8 1510.0,1498.0 C1510.3,1496.2 1510.3,1494.3 1509.7,1492.0 C1509.1,1489.7 1508.0,1486.8 1506.5,1484.0 C1505.0,1481.2 1503.0,1478.6 1500.5,1475.2 C1498.0,1471.8 1494.6,1467.4 1491.5,1463.5 C1488.4,1459.6 1485.4,1455.5 1481.9,1451.6 C1478.4,1447.7 1474.2,1443.9 1470.5,1440.0 C1466.8,1436.1 1463.1,1431.7 1459.9,1428.0 C1456.7,1424.3 1454.3,1421.5 1451.5,1418.0 C1448.7,1414.5 1444.4,1408.8 1443.0,1407.0 Z" fill="url(#botg)" stroke="#cbd5df" stroke-width="1.3"/>
<path d="M1365,1420 C1350,1455 1318,1470 1312,1500 L1312,1650 L1490,1650 L1490,1500 C1484,1470 1452,1455 1437,1420 Z" fill="#ffffff" opacity="0.45" filter="url(#blur3)"/>
<path d="M1355,1351 Q1355.5,1342 1365,1342 L1437.5,1342 Q1446.5,1342 1447,1351 L1448.2,1400.5 L1353,1400.5 Z" fill="url(#capg)" stroke="#d3dae1" stroke-width="1"/>
<line x1="1360.0" y1="1349" x2="1359.6" y2="1384" stroke="#e1e6eb" stroke-width="1.4"/>
<line x1="1366.8" y1="1349" x2="1366.4" y2="1384" stroke="#e1e6eb" stroke-width="1.4"/>
<line x1="1373.6" y1="1349" x2="1373.2" y2="1384" stroke="#e1e6eb" stroke-width="1.4"/>
<line x1="1380.4" y1="1349" x2="1380.0" y2="1384" stroke="#e1e6eb" stroke-width="1.4"/>
<line x1="1387.2" y1="1349" x2="1386.8" y2="1384" stroke="#e1e6eb" stroke-width="1.4"/>
<line x1="1394.0" y1="1349" x2="1393.6" y2="1384" stroke="#e1e6eb" stroke-width="1.4"/>
<line x1="1400.8" y1="1349" x2="1400.4" y2="1384" stroke="#e1e6eb" stroke-width="1.4"/>
<line x1="1407.6" y1="1349" x2="1407.2" y2="1384" stroke="#e1e6eb" stroke-width="1.4"/>
<line x1="1414.4" y1="1349" x2="1414.0" y2="1384" stroke="#e1e6eb" stroke-width="1.4"/>
<line x1="1421.2" y1="1349" x2="1420.8" y2="1384" stroke="#e1e6eb" stroke-width="1.4"/>
<line x1="1428.0" y1="1349" x2="1427.6" y2="1384" stroke="#e1e6eb" stroke-width="1.4"/>
<line x1="1434.8" y1="1349" x2="1434.4" y2="1384" stroke="#e1e6eb" stroke-width="1.4"/>
<line x1="1441.6" y1="1349" x2="1441.2" y2="1384" stroke="#e1e6eb" stroke-width="1.4"/>
<rect x="1353.5" y="1384" width="94.3" height="16" fill="#ebeff3" opacity="0.85"/>
<rect x="1349.4" y="1400.6" width="103" height="6.6" rx="3.3" fill="#e4e9ef" stroke="#cbd4dd" stroke-width="1"/>
<path d="M1293,1497 Q1401,1507 1509.5,1497" fill="none" stroke="#d0dae4" stroke-width="2"/>
<path d="M1295,1504 Q1401,1514 1507.5,1504" fill="none" stroke="#e2e9f0" stroke-width="2"/>
<path d="M1293,1594 Q1401,1603 1509.5,1594 L1509.5,1601 Q1401,1610 1293,1601 Z" fill="#d5dee7" opacity="0.75"/>
<path d="M1294,1602 Q1401,1611 1508.5,1602 L1508.5,1607 Q1401,1616 1294,1607 Z" fill="#ffffff" opacity="0.8"/>
<path d="M1294.5,1613 Q1401,1626 1508,1613" fill="none" stroke="#d3dce6" stroke-width="2.2"/>
<path d="M1293,1622 Q1401,1634 1509.5,1622" fill="none" stroke="#e4eaf1" stroke-width="2"/>
<path d="M1292.5,1647 L1510,1647 L1495.4,1929 Q1494,1936 1487.8,1937.7 Q1400,1949 1312,1937.7 Q1306,1936 1305.5,1929 Z" fill="url(#glassg)"/>
<path d="M1292.5,1647 L1510,1647 L1509,1668 L1293.5,1668 Z" fill="#ffffff" opacity="0.3"/>
<ellipse cx="1296" cy="1795" rx="5" ry="17" fill="#ececec" opacity="0.8"/><ellipse cx="1298" cy="1842" rx="6" ry="17" fill="#ececec" opacity="0.8"/>
<ellipse cx="1506.5" cy="1796" rx="4" ry="16" fill="#ececec" opacity="0.8"/><ellipse cx="1503" cy="1845" rx="6" ry="19" fill="#ececec" opacity="0.8"/>
<path d="M1303.6,1880 Q1400,1868 1497.8,1880 L1495.4,1929 Q1494,1936 1487.8,1937.7 Q1400,1949 1312,1937.7 Q1306,1936 1305.5,1929 Z" fill="#f1f3f5"/>
<path d="M1303.6,1880 L1330,1876 L1331,1940 Q1306,1938 1305.5,1929 Z" fill="#dde1e5" opacity="0.9"/>
<path d="M1466,1875 L1497.8,1880 L1495.4,1929 Q1494,1936 1468,1940 Z" fill="#dadde1" opacity="0.9"/>
<path d="M1345,1850 L1358,1850 L1358.5,1943 L1346,1942 Z" fill="#ffffff" opacity="0.9"/>
<path d="M1318,1792 Q1401,1798 1484,1792" stroke="#e3ebf3" stroke-width="1.6" fill="none"/>
<path d="M1319,1813 Q1401,1820 1483,1813" stroke="#d2e0ee" stroke-width="2" fill="none"/>
<path d="M1320,1824 Q1401,1830 1482,1824" stroke="#e6edf4" stroke-width="1.4" fill="none"/>
<path d="M1321,1833 Q1401,1839 1481,1833" stroke="#e9eff5" stroke-width="1.4" fill="none"/>
<path d="M1293.2,1648 L1305.5,1929 Q1306,1936 1312,1937.7 Q1400,1949 1487.8,1937.7 Q1494,1936 1495.4,1929 L1509.3,1648" stroke="#8d9399" stroke-width="1.8" fill="none" opacity="0.9"/>
<path d="M1297,1660 L1301,1730 L1318,1838 Q1324,1864 1344,1870" stroke="#7f858b" stroke-width="2.2" fill="none" opacity="0.85"/>
<path d="M1300.5,1668 L1306,1730 L1322,1836 Q1327,1858 1347,1866" stroke="#9aa0a6" stroke-width="1.6" fill="none" opacity="0.8"/>
<path d="M1505.5,1660 L1501,1730 L1486.5,1838 Q1481,1862 1462,1870" stroke="#858b91" stroke-width="2.2" fill="none" opacity="0.85"/>
<path d="M1502,1668 L1497,1730 L1482.5,1836 Q1478,1858 1459,1866" stroke="#a2a8ae" stroke-width="1.6" fill="none" opacity="0.75"/>
<path d="M1358,1854.5 Q1405,1850 1456,1852" stroke="#a9aeb3" stroke-width="3" fill="none" opacity="0.8"/>
<path d="M1360,1873.5 Q1400,1879 1439,1872.5 Q1455,1870 1464,1868" stroke="#6f757b" stroke-width="3.4" fill="none" opacity="0.85"/>
<path d="M1344,1870 Q1352,1873 1360,1873.5" stroke="#a4aab0" stroke-width="2" fill="none" opacity="0.7"/>
</g>
<text x="1286.6" y="1401.7" font-size="39.5" font-weight="normal" font-style="normal" fill="#1075bc" textLength="65.1" lengthAdjust="spacingAndGlyphs" >drink</text>
<text x="1359.6" y="1401.7" font-size="38.5" font-weight="bold" font-style="normal" fill="#1075bc" textLength="82.1" lengthAdjust="spacingAndGlyphs" stroke="#1075bc" stroke-width="0.8" stroke-linejoin="round" >MORE</text>
<text x="1450.8" y="1401.7" font-size="39.5" font-weight="bold" font-style="normal" fill="#1075bc" textLength="82.2" lengthAdjust="spacingAndGlyphs" stroke="#1075bc" stroke-width="0.8" stroke-linejoin="round" >water</text>
<g filter="url(#sh)">
<text x="1268.5" y="1577.2" font-size="43.0" font-weight="normal" font-style="normal" fill="#1075bc" textLength="260.2" lengthAdjust="spacingAndGlyphs" >Bottled Water</text>
<rect x="1380.3" y="1603.5" width="43" height="5.4" fill="#1075bc"/><rect x="1380.3" y="1619.5" width="43" height="5.4" fill="#1075bc"/>
<text x="1323.8" y="1678.6" font-size="37.5" font-weight="normal" font-style="normal" fill="#1075bc" textLength="74.5" lengthAdjust="spacingAndGlyphs" >40%</text>
<text x="1408.8" y="1678.6" font-size="37.5" font-weight="normal" font-style="italic" fill="#1075bc" textLength="20.8" lengthAdjust="spacingAndGlyphs" >of</text>
<text x="1443.6" y="1678.6" font-size="37.5" font-weight="bold" font-style="normal" fill="#1075bc" textLength="48.3" lengthAdjust="spacingAndGlyphs" stroke="#1075bc" stroke-width="1" stroke-linejoin="round" >ALL</text>
<text x="1284.0" y="1724.3" font-size="38.5" font-weight="normal" font-style="normal" fill="#1075bc" textLength="250.3" lengthAdjust="spacingAndGlyphs" >water servings</text>
</g>
<text x="1403.0" y="1970.0" font-size="12.5" font-weight="bold" font-style="italic" fill="#1d4f8f" textLength="200.7" lengthAdjust="spacingAndGlyphs" >Source: Kantor Panel Worldwide</text>
<clipPath id="gc"><circle cx="1346" cy="2480" r="471.2"/></clipPath>
<clipPath id="gtop"><rect x="800" y="2011.4" width="900" height="600"/></clipPath>
<circle cx="1346" cy="2480" r="471.2" fill="url(#globeg)" clip-path="url(#gtop)"/>
<g clip-path="url(#gtop)"><g clip-path="url(#gc)"><g transform="translate(870,2000) scale(0.5065)" fill="#cedae6" opacity="0.62">
<path d="M430,150 C520,90 620,60 720,50 C800,40 880,30 925,40 C945,60 940,90 905,125 C880,150 865,175 872,215 C885,255 870,290 845,300 C820,305 800,280 775,285 C750,292 730,305 700,315 C670,325 640,325 610,332 C585,340 570,355 555,375 C540,395 520,405 500,420 C480,435 470,460 465,485 C460,505 445,505 438,480 C432,455 425,440 405,432 C380,428 350,440 320,452 C290,462 262,480 245,510 C232,540 240,580 262,615 C280,645 300,680 325,715 C345,740 375,745 400,735 C420,725 440,728 465,745 C500,770 540,800 590,825 C640,850 680,890 715,940 C745,985 780,1030 830,1060 C860,1078 880,1090 900,1110 L230,1110 C225,1060 235,1010 260,950 C285,890 305,840 300,790 C295,750 270,710 245,660 C220,610 190,560 150,510 C130,485 118,470 100,470 C150,340 270,220 430,150 Z"/>
<path d="M940,45 C1000,30 1070,25 1120,32 C1160,40 1185,55 1175,75 C1160,100 1120,110 1085,135 C1055,160 1030,195 1005,208 C985,200 968,170 955,135 C945,105 935,70 940,45 Z"/>
<path d="M1075,165 C1100,150 1135,145 1150,160 C1150,185 1120,200 1095,198 C1080,192 1070,180 1075,165 Z"/>
<path d="M1320,300 C1340,270 1370,265 1395,290 C1415,310 1420,345 1410,375 C1395,385 1375,380 1370,360 C1360,335 1335,330 1320,300 Z"/>
<path d="M1375,180 C1420,170 1480,200 1545,250 L1545,545 C1500,550 1450,565 1420,558 C1395,545 1385,510 1370,485 C1355,465 1365,440 1395,425 C1420,410 1440,400 1450,380 C1455,350 1440,320 1425,290 C1410,265 1385,240 1378,215 Z"/>
<path d="M1255,720 C1270,670 1310,630 1360,605 C1420,585 1490,580 1545,578 L1545,1110 L1285,1110 C1260,1050 1240,980 1242,900 C1245,830 1250,770 1255,720 Z"/>
</g></g></g>
<text x="129.5" y="2014.3" font-size="87.0" font-weight="bold" font-style="normal" fill="#2979bb" textLength="293.1" lengthAdjust="spacingAndGlyphs" >Bottled</text>
<text x="440.9" y="2014.3" font-size="87.0" font-weight="bold" font-style="normal" fill="#2979bb" textLength="231.7" lengthAdjust="spacingAndGlyphs" >Water</text>
<text x="694.3" y="2014.3" font-size="87.0" font-weight="bold" font-style="normal" fill="#2979bb" textLength="289.9" lengthAdjust="spacingAndGlyphs" >Saves...</text>
<text x="176.7" y="2126.2" font-size="52.0" font-weight="normal" font-style="normal" fill="#2b80c2" textLength="310.2" lengthAdjust="spacingAndGlyphs" >by switching</text>
<text x="494.0" y="2126.2" font-size="52.0" font-weight="normal" font-style="italic" fill="#2b80c2" textLength="81.5" lengthAdjust="spacingAndGlyphs" >from</text>
<text x="583.9" y="2126.2" font-size="52.0" font-weight="normal" font-style="normal" fill="#2b80c2" textLength="185.3" lengthAdjust="spacingAndGlyphs" >soft drinks</text>
<text x="778.5" y="2126.2" font-size="52.0" font-weight="normal" font-style="italic" fill="#2b80c2" textLength="37.1" lengthAdjust="spacingAndGlyphs" >to</text>
<text x="822.0" y="2126.2" font-size="52.0" font-weight="bold" font-style="normal" fill="#2b80c2" textLength="279.2" lengthAdjust="spacingAndGlyphs" >bottled water</text>
<text x="1100.5" y="2126.2" font-size="50.0" font-weight="normal" font-style="normal" fill="#2b80c2" textLength="17.0" lengthAdjust="spacingAndGlyphs" >,</text>
<text x="426.9" y="2213.1" font-size="55.0" font-weight="normal" font-style="normal" fill="#2b80c2" letter-spacing="2.52" style="font-kerning:none" transform="translate(426.89,0) scale(1.0600,1) translate(-426.89,0)" >Americans</text>
<text x="742.7" y="2213.1" font-size="56.0" font-weight="normal" font-style="normal" fill="#2b80c2" textLength="101.6" lengthAdjust="spacingAndGlyphs" >have</text>
<text x="863.9" y="2213.1" font-size="55.0" font-weight="bold" font-style="normal" fill="#2b80c2" letter-spacing="2.44" style="font-kerning:none" transform="translate(863.88,0) scale(1.0200,1) translate(-863.88,0)" >SAVED...</text>
<text x="926.3" y="2324.0" font-size="54.0" font-weight="normal" font-style="normal" fill="#1a76bb" textLength="99.6" lengthAdjust="spacingAndGlyphs" >300</text>
<text x="1037.6" y="2324.0" font-size="62.0" font-weight="bold" font-style="normal" fill="#2277ba" textLength="188.2" lengthAdjust="spacingAndGlyphs" >billion</text>
<text x="1234.9" y="2324.0" font-size="38.0" font-weight="normal" font-style="normal" fill="#1a76bb" textLength="125.5" lengthAdjust="spacingAndGlyphs" >calories</text>
<text x="1367.6" y="2324.0" font-size="22.0" font-weight="bold" font-style="italic" fill="#4c95cf" textLength="94.2" lengthAdjust="spacingAndGlyphs" >each year</text>
<text x="967.1" y="2391.0" font-size="18.0" font-weight="bold" font-style="italic" fill="#1a76bb" textLength="68.3" lengthAdjust="spacingAndGlyphs" >~ and ~</text>
<text x="966.6" y="2483.2" font-size="46.0" font-weight="normal" font-style="normal" fill="#1a76bb" textLength="66.6" lengthAdjust="spacingAndGlyphs" >6.4</text>
<text x="1042.1" y="2483.2" font-size="52.0" font-weight="bold" font-style="normal" fill="#1a76bb" textLength="151.1" lengthAdjust="spacingAndGlyphs" >billion</text>
<text x="1202.6" y="2483.2" font-size="32.0" font-weight="normal" font-style="normal" fill="#1a76bb" textLength="101.0" lengthAdjust="spacingAndGlyphs" >gallons of</text>
<text x="1315.1" y="2483.2" font-size="51.5" font-weight="bold" font-style="normal" fill="#1075bc" textLength="144.9" lengthAdjust="spacingAndGlyphs" stroke="#1075bc" stroke-width="1.4" stroke-linejoin="round" >Water</text>
<text x="1472.1" y="2483.2" font-size="22.0" font-weight="bold" font-style="italic" fill="#4c95cf" textLength="101.5" lengthAdjust="spacingAndGlyphs" >each year.</text>
<g filter="url(#soft)">
<text x="113.8" y="2409.0" font-size="40.5" font-weight="normal" font-style="normal" fill="#111" textLength="144.3" lengthAdjust="spacingAndGlyphs" >BOTTLED</text>
<text x="117.9" y="2442.1" font-size="37.5" font-weight="bold" font-style="normal" fill="#6ea3df" textLength="137.4" lengthAdjust="spacingAndGlyphs" stroke="#6ea3df" stroke-width="3" stroke-linejoin="miter" >WATER</text>
<text x="115.2" y="2462.3" font-size="19.5" font-weight="normal" font-style="normal" fill="#222" letter-spacing="10.92" style="font-kerning:none" transform="translate(115.16,0) scale(0.9000,1) translate(-115.16,0)" >MATTERS</text>
</g>
<text x="118.4" y="2482.6" font-size="17.0" font-weight="bold" font-style="normal" fill="#1075bc" textLength="254.3" lengthAdjust="spacingAndGlyphs" >www.bottledwatermatters.com</text>
</svg>
</body></html>
